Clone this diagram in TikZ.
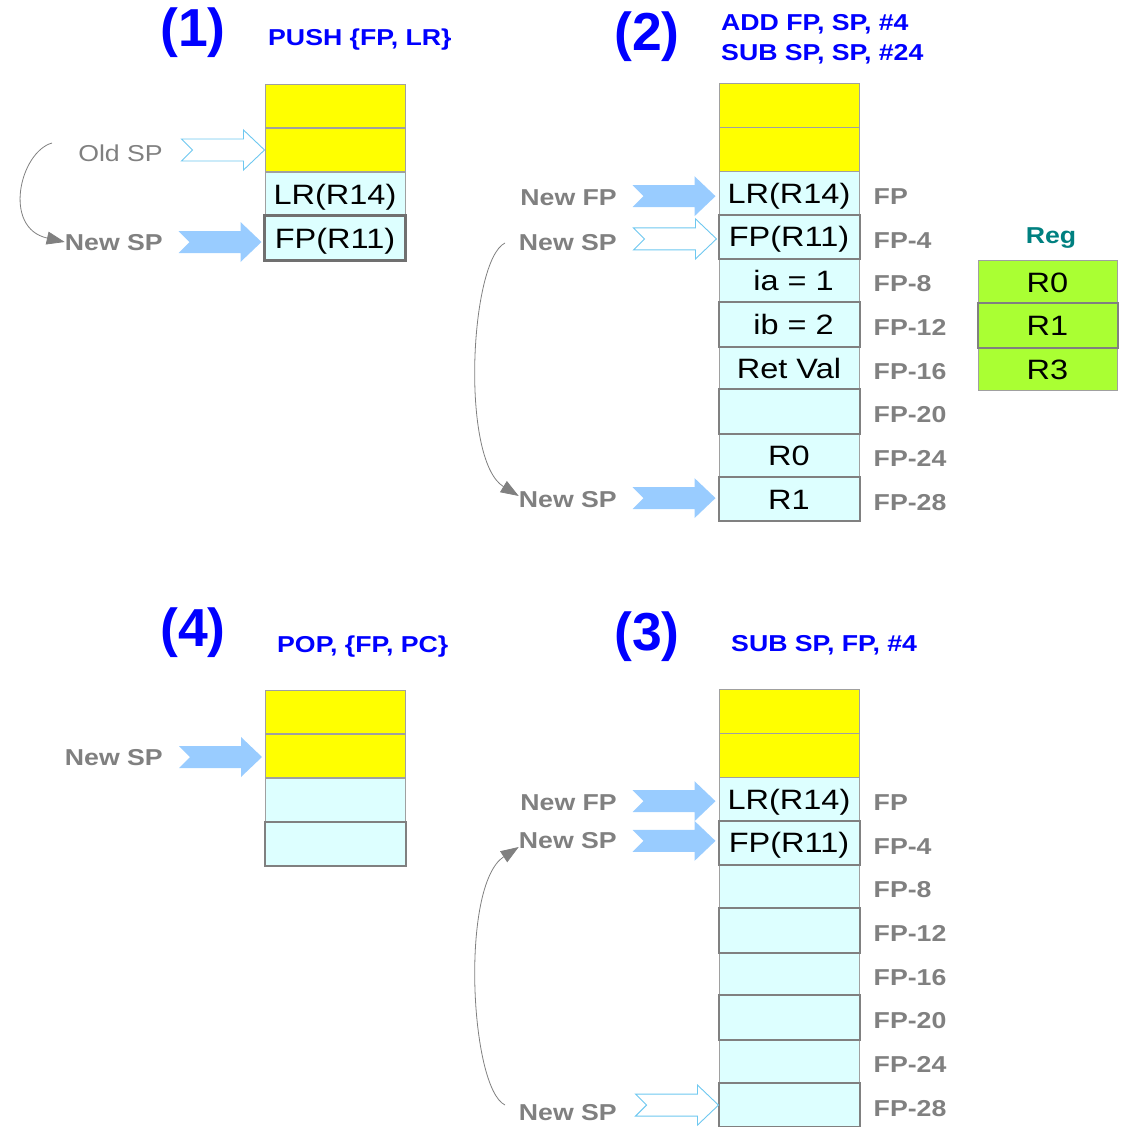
\documentclass[tikz,border=0pt]{standalone}
\usepackage{fontspec}
\setmainfont{Liberation Sans}[FakeStretch=1.16]
\newfontfamily\titfont{Liberation Sans}
\usetikzlibrary{arrows.meta}
\definecolor{cyanc}{RGB}{221,255,255}
\definecolor{yel}{RGB}{255,255,0}
\definecolor{grn}{RGB}{170,255,51}
\definecolor{afill}{RGB}{153,204,255}
\definecolor{aline}{RGB}{110,200,240}
\definecolor{lgray}{RGB}{128,128,128}
\definecolor{bgray}{RGB}{160,160,160}
\definecolor{dgray}{RGB}{128,128,128}
\definecolor{xgray}{RGB}{112,112,112}
\definecolor{tblue}{RGB}{0,0,255}
\definecolor{teal2}{RGB}{0,128,128}
\tikzset{
 cell/.style={draw=bgray, line width=1pt, minimum width=140pt, minimum height=43.7pt, inner sep=0pt,
   font=\fontsize{28}{30}\selectfont, text height=20pt, text depth=0pt},
 ycell/.style={cell, fill=yel},
 ccell/.style={cell, fill=cyanc},
 gcell/.style={cell, fill=grn, minimum width=139pt, minimum height=43.5pt},
 thickb/.style={draw=dgray, line width=2pt},
 lab/.style={inner sep=0pt, text=lgray, font=\fontsize{23}{26}\selectfont\bfseries, text height=16.5pt, text depth=0pt},
 labr/.style={lab, font=\fontsize{23}{26}\selectfont},
 cmd/.style={lab, text=tblue, anchor=west},
 tit/.style={inner sep=0pt, text=tblue, font=\titfont\fontsize{53.5}{56}\selectfont\bfseries},
 curv/.style={draw=lgray, line width=0.8pt, -{Triangle[length=18pt,width=13pt]}},
 fillarrow/.pic={\fill[afill] (0,0) -- (-21,20) -- (-21,11) -- (-83,11) -- (-72,0) -- (-83,-11) -- (-21,-11) -- (-21,-20) -- cycle;},
 hollowarrow/.pic={\draw[aline, fill=white, line width=0.9pt] (0,0) -- (-21,20) -- (-21,11) -- (-83,11) -- (-72,0) -- (-83,-11) -- (-21,-11) -- (-21,-20) -- cycle;}
}
\begin{document}
\begin{tikzpicture}[x=1pt, y=-1pt]
\useasboundingbox (0,0) rectangle (1128,1127);
\clip (0,0) rectangle (1128,1127);

% ---------- titles ----------
\node[tit] (t1) at (193,33) {(1)};
\node[tit] (t2) at (647,37) {(2)};
\node[tit] (t3) at (647,637) {(3)};
\node[tit] (t4) at (193,633) {(4)};
\node[cmd] (k1) at (268,37) {PUSH \{FP, LR\}};
\node[cmd] (k2a) at (721,22) {ADD FP, SP, \#4};
\node[cmd] (k2b) at (721,52) {SUB SP, SP, \#24};
\node[cmd] (k3) at (731,643) {SUB SP, FP, \#4};
\node[cmd] (k4) at (277,644) {POP, \{FP, PC\}};

% ---------- panel 1 ----------
\node[ycell] (a0) at (335,106) {};
\node[ycell] (a1) at (335,150) {};
\node[ccell] (a2) at (335,194) {LR(R14)};
\node[ccell] (a3) at (335,238) {FP(R11)};
\draw[draw=xgray, line width=3pt] (a3.north west) rectangle (a3.south east);
\node[labr, anchor=east] (os1) at (163,153) {Old SP};
\node[lab, anchor=east] (ns1) at (163,242) {New SP};
\pic at ([xshift=0pt]a1.west) {hollowarrow};
\pic at ([xshift=-3pt,yshift=-4pt]a3.west) {fillarrow};
\coordinate (c1s) at (52,143);
\draw[curv] (c1s) .. controls (20,152) and (2,228) .. (ns1.west);

% ---------- panel 2 ----------
\foreach \i/\t/\f in {0//yel,1//yel,2/LR(R14)/cyanc,3/FP(R11)/cyanc,4/\ ia = 1/cyanc,5/\ ib = 2/cyanc,6/Ret Val\ /cyanc,7//cyanc,8/R0/cyanc,9/R1/cyanc}
  \node[cell, fill=\f] (b\i) at (789,{105.8+43.7*\i}) {\t};
\foreach \i in {3,5,7,9}
  \draw[thickb] (b\i.north west) rectangle (b\i.south east);
\foreach \i/\t in {2/FP,3/FP-4,4/FP-8,5/FP-12,6/FP-16,7/FP-20,8/FP-24,9/FP-28}
  \node[lab, anchor=west] (fb\i) at ([xshift=14pt,yshift=-3pt]b\i.east) {\t};
\node[lab, anchor=east] (nfb) at (617,197) {New FP};
\node[lab, anchor=east] (nsb1) at (617,242) {New SP};
\node[lab, anchor=east] (nsb2) at (617,499) {New SP};
\pic at ([xshift=-3pt,yshift=-3pt]b2.west) {fillarrow};
\pic at ([xshift=-2pt,yshift=-2pt]b3.west) {hollowarrow};
\pic at ([xshift=-3pt,yshift=1pt]b9.west) {fillarrow};
\coordinate (c2s) at (505,243);
\draw[curv] (c2s) .. controls (470,260) and (460,460) .. ([yshift=3pt]nsb2.west);

% Reg
\node[lab, text=teal2] (reg) at (1051,235) {Reg};
\node[gcell] (r0) at (1047.5,282) {R0};
\node[gcell] (r1) at (1047.5,325.5) {R1};
\node[gcell] (r2) at (1047.5,369) {R3};
\draw[thickb] (r1.north west) rectangle (r1.south east);

% ---------- panel 3 ----------
\foreach \i/\t/\f in {0//yel,1//yel,2/LR(R14)/cyanc,3/FP(R11)/cyanc,4//cyanc,5//cyanc,6//cyanc,7//cyanc,8//cyanc,9//cyanc}
  \node[cell, fill=\f] (c\i) at (789,{711.8+43.7*\i}) {\t};
\foreach \i in {3,5,7,9}
  \draw[thickb] (c\i.north west) rectangle (c\i.south east);
\foreach \i/\t in {2/FP,3/FP-4,4/FP-8,5/FP-12,6/FP-16,7/FP-20,8/FP-24,9/FP-28}
  \node[lab, anchor=west] (fc\i) at ([xshift=14pt,yshift=-3pt]c\i.east) {\t};
\node[lab, anchor=east] (nfc) at (617,802) {New FP};
\node[lab, anchor=east] (nsc1) at (617,840) {New SP};
\node[lab, anchor=east] (nsc2) at (617,1112) {New SP};
\pic at ([xshift=-3pt,yshift=-2pt]c2.west) {fillarrow};
\pic at ([xshift=-3pt,yshift=2pt]c3.west) {fillarrow};
\pic at (c9.west) {hollowarrow};
\coordinate (c3s) at (505,1105);
\draw[curv] (c3s) .. controls (470,1088) and (460,885) .. ([yshift=-7pt]nsc1.west);

% ---------- panel 4 ----------
\node[ycell] (d0) at (335.5,712) {};
\node[ycell] (d1) at (335.5,756) {};
\node[ccell] (d2) at (335.5,800) {};
\node[ccell] (d3) at (335.5,844) {};
\draw[thickb] (d3.north west) rectangle (d3.south east);
\node[lab, anchor=east] (nsd) at (163,757) {New SP};
\pic at ([xshift=-3pt,yshift=-1pt]d1.west) {fillarrow};
\end{tikzpicture}
\end{document}
